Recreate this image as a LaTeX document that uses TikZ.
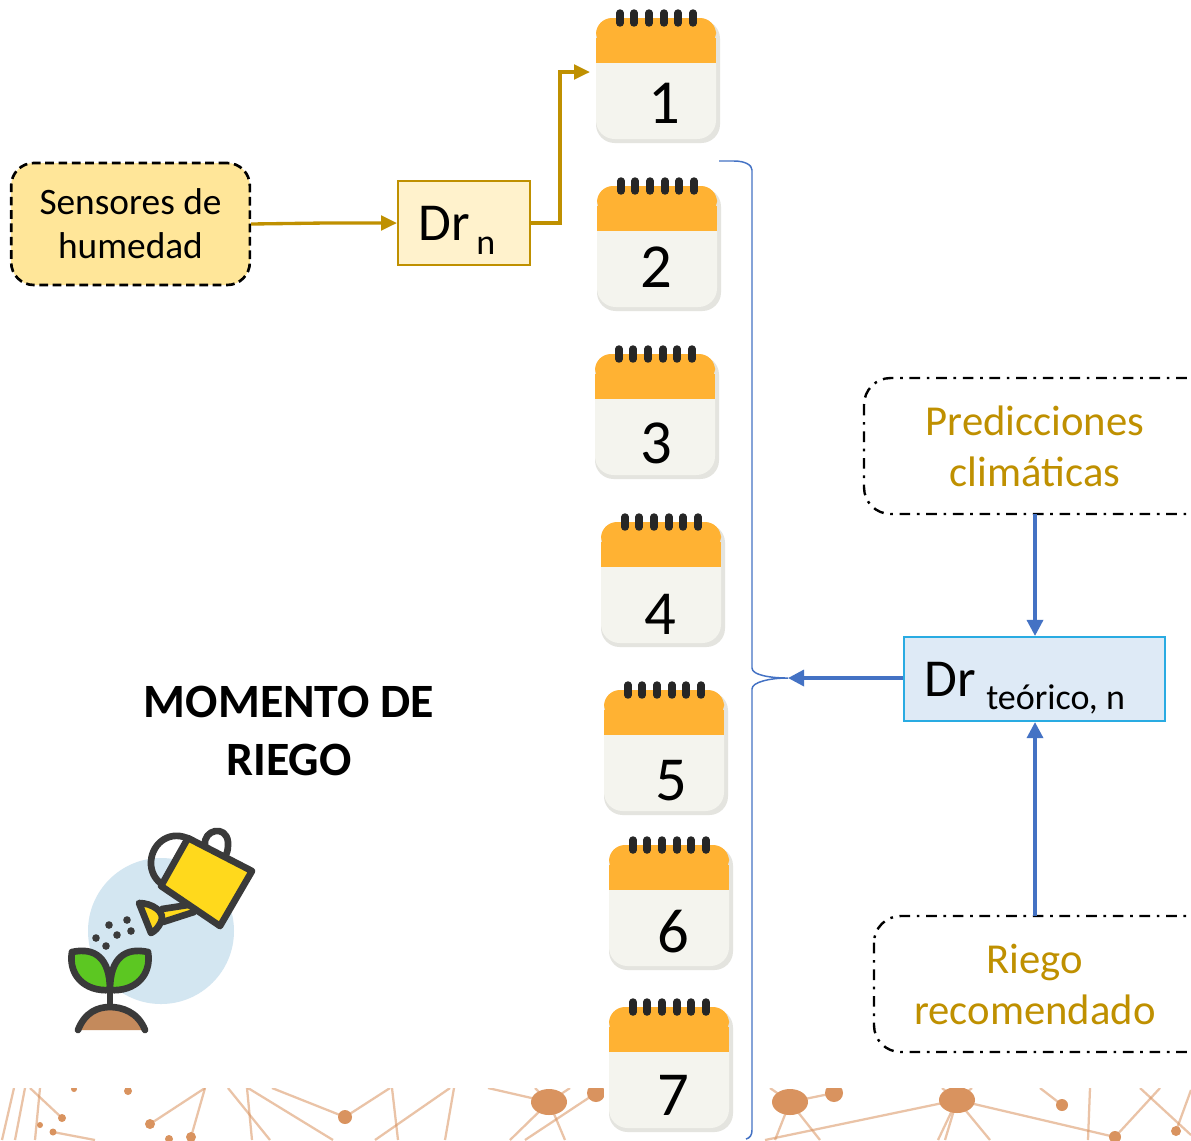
\documentclass[tikz,border=0pt]{standalone}
\usepackage{fontspec}
\setmainfont{Carlito}
\usetikzlibrary{arrows.meta}
\definecolor{gold}{HTML}{BF9000}
\definecolor{blueline}{HTML}{4472C4}
\definecolor{calorange}{HTML}{FFB233}
\definecolor{calcream}{HTML}{F4F4EE}
\definecolor{calshadow}{HTML}{E4E4DF}
\definecolor{net}{HTML}{D9935F}
\definecolor{ink}{HTML}{3A3A3A}
\definecolor{sensfill}{HTML}{FFE699}
\definecolor{drfill}{HTML}{FFF2CC}
\definecolor{tfill}{HTML}{DEEAF6}
\definecolor{tborder}{HTML}{29ABE2}
\definecolor{iconblue}{HTML}{D3E6F1}
\definecolor{canyellow}{HTML}{FFD91C}
\definecolor{leafgreen}{HTML}{5CC722}
\definecolor{soil}{HTML}{C48A5C}
\newcommand{\fsz}[2]{\fontsize{#1}{#2}\selectfont}
\tikzset{
  x=0.75pt,y=-0.75pt,
  goldarrow/.style={draw=gold,line width=2.5pt,-{Triangle[length=12pt,width=11pt]}},
  bluearrow/.style={draw=blueline,line width=2.5pt,-{Triangle[length=12pt,width=12pt]}},
  dashbox/.style={draw=black,line width=1.8pt,dash pattern=on 8pt off 5pt on 2pt off 5pt,rounded corners=20pt,fill=white},
  goldtext/.style={text=gold,font=\fsz{32}{38.25},align=center,inner sep=0pt},
  netline/.style={draw=net,opacity=.55,line width=1.7pt},
  netdot/.style={fill=net,draw=none},
  icon/.style={draw=ink,line width=5pt,line join=round,line cap=round},
  calnum/.style={font=\fsz{47}{47},text=black,inner sep=0pt},
}
\newcommand{\calsheet}[6]{%
  \begin{scope}[shift={(#2,#3)}]
    \fill[calshadow,rounded corners=14pt] (0,2) rectangle (124,125);
    \fill[calcream,rounded corners=14pt] (0,20) rectangle (120,121);
    \fill[calcream] (0,45) rectangle (120,80);
    \fill[calorange,rounded corners=12pt] (0,0) rectangle (120,30);
    \fill[calorange] (0,20) rectangle (120,45);
    \foreach \rx in {24,38,53,68,82,97}
      \draw[line width=5.6pt,line cap=round,draw=black!85] (\rx,-5) -- (\rx,5);
  \end{scope}
  \node[calnum] (#1) at (#4,#5) {#6};
}
\begin{document}
\begin{tikzpicture}
\useasboundingbox (0,0) rectangle (1191,1140);
\fill[white] (0,0) rectangle (1191,1140);

% network band
\begin{scope}
  \clip (0,1088) rectangle (1191,1140);
  \foreach \a/\b/\c/\d in {14/1088/2/1140,25/1088/15/1140,30/1088/62/1118,40/1088/35/1140,53/1132/95/1140,
    205/1088/150/1124,205/1088/191/1137,228/1088/270/1140,247/1088/252/1140,248/1088/333/1140,
    272/1088/345/1117,345/1117/390/1088,392/1088/398/1140,450/1088/375/1140,454/1088/445/1140,
    488/1088/549/1102,549/1102/510/1140,549/1102/565/1140,596/1093/525/1140,549/1102/535/1088,
    549/1102/570/1088,790/1102/770/1088,790/1102/834/1093,790/1102/775/1140,790/1102/820/1140,
    957/1100/765/1140,957/1100/1115/1137,957/1100/942/1088,957/1100/972/1088,957/1100/945/1140,
    957/1100/990/1140,957/1100/938/1140,1040/1088/1062/1105,1090/1088/1088/1140,
    1160/1088/1115/1137,1140/1088/1191/1135,1176/1131/1191/1090}
    \draw[netline] (\a,\b) -- (\c,\d);
  \foreach \a/\b in {549/1102,790/1102,957/1100}
    \fill[netdot] (\a,\b) ellipse [x radius=18,y radius=13];
  \foreach \a/\b/\r in {834/1093/9,1062/1105/6,1115/1137/6,
    345/1117/7,150/1124/5,191/1137/5,62/1118/4,40/1125/3,53/1132/3.5,128/1091/4,74/1089/3,169/1139/4,
    1176/1131/5,596/1093/9}
    \fill[netdot] (\a,\b) circle (\r);
  \fill[white] (604,1088) rectangle (762,1140);
\end{scope}

% calendars
\calsheet{c1}{596}{18}{664}{103}{1}
\calsheet{c2}{597}{186}{656}{267}{2}
\calsheet{c3}{595}{354}{656}{443}{3}
\calsheet{c4}{601}{522}{660}{614}{4}
\calsheet{c5}{604}{690}{671}{781}{5}
\calsheet{c6}{609}{845}{673}{932}{6}
\calsheet{c7}{609}{1007}{673}{1095}{7}

% left part
\node[draw=black,line width=2pt,dash pattern=on 6.5pt off 3.5pt,rounded corners=17pt,fill=sensfill,
  minimum width=179pt,minimum height=91.5pt,inner sep=0pt,align=center,font=\fsz{28}{33},text=black] (sens) at (130.5,224) {Sensores de\\humedad};
\node[draw=gold,line width=1.8pt,fill=drfill,minimum width=99pt,minimum height=63pt,inner sep=0pt,
  anchor=west,text=black] (drn) at (397,223) {};
\node[anchor=base west,inner sep=0pt,font=\fsz{40}{40}] (drnlab) at (418,240) {Dr};
\node[anchor=base west,inner sep=0pt,font=\fsz{27}{27}] (drnsub) at (476,254) {n};
\coordinate (sensmid) at (325,223);
\coordinate (cal1in) at (590,72);
\draw[goldarrow] (sens.east) -- (sensmid) -- (drn.west);
\draw[goldarrow] (drn.east) -- (560,223) -- (560,72) -- (cal1in);

\node[font=\bfseries\fsz{35.9}{43.5},align=center,inner sep=0pt] (title) at (289,731) {MOMENTO DE\\RIEGO};

% watering can icon
\fill[iconblue] (161,931) circle (73);
\draw[icon] (187,838) .. controls (168,830) and (150,845) .. (151,865) .. controls (152,875) and (157,881) .. (163,885);
\draw[icon] (205,845) .. controls (203,830) and (226,824) .. (228,842) .. controls (228,848) and (228,850) .. (226,855);
\fill[canyellow] (162,909) -- (188,905) -- (194,912) -- (163,922) -- cycle;
\draw[icon] (162,909) -- (188,905) (163,922) -- (194,912);
\draw[icon,fill=canyellow] (139,903) .. controls (152,903) and (166,912) .. (161,922) .. controls (158,928) and (155,931) .. (151,933) -- cycle;
\draw[icon,fill=canyellow] (188,838) -- (252,871) -- (220,926) -- (161,886) -- cycle;
\foreach \a/\b in {109/925,127/920,131/931,117/935,96/938,106/946}
  \fill[ink] (\a,\b) circle (3.8);
\draw[icon,fill=leafgreen] (110,990) .. controls (85,992) and (68,975) .. (72,952) .. controls (95,947) and (110,958) .. (110,990);
\draw[icon,fill=leafgreen] (110,990) .. controls (135,992) and (152,975) .. (148,952) .. controls (125,947) and (110,958) .. (110,990);
\draw[icon] (110,990) -- (110,1007);
\fill[soil] (78,1030) .. controls (85,1012) and (98,1007) .. (110,1007) .. controls (122,1007) and (138,1012) .. (145,1030) -- cycle;
\draw[icon] (78,1030) .. controls (85,1012) and (98,1007) .. (110,1007) .. controls (122,1007) and (138,1012) .. (145,1030);

% right part
\begin{scope}
  \clip (0,0) rectangle (1191,1140);
  \draw[dashbox] (864,378) rectangle (1240,514);
  \draw[dashbox] (874,916) rectangle (1240,1052);
\end{scope}
\node[goldtext] (pred) at (1035,446) {Predicciones\\climáticas};
\node[goldtext] (riego) at (1035,984) {Riego\\recomendado};
\coordinate (predb) at (1035,514);
\coordinate (riegot) at (1035,916);
\node[draw=tborder,line width=1.6pt,fill=tfill,minimum width=195.75pt,minimum height=63pt,inner sep=0pt,anchor=west] (drt) at (903,679) {};
\node[anchor=base west,inner sep=0pt,font=\fsz{40}{40}] (drtlab) at (924,696) {Dr};
\node[anchor=base west,inner sep=0pt,font=\fsz{27}{27}] (drtsub) at (986,709) {teórico, n};
\draw[bluearrow] (predb) -- (drt.north -| predb);
\draw[bluearrow] (riegot) -- (drt.south -| riegot);
\coordinate (bracetip) at (788,678);
\draw[bluearrow] (drt.west |- bracetip) -- (bracetip);

% brace
\draw[draw=blueline,line width=1.1pt] (719,161) -- (734,161) .. controls (745,161) and (752,165) .. (752,170)
  -- (752,668) .. controls (752,675) and (770,678) .. (788,678)
  .. controls (770,678) and (752,682) .. (752,689) -- (752,1130) .. controls (752,1135) and (750,1138) .. (746,1139);
\end{tikzpicture}
\end{document}
